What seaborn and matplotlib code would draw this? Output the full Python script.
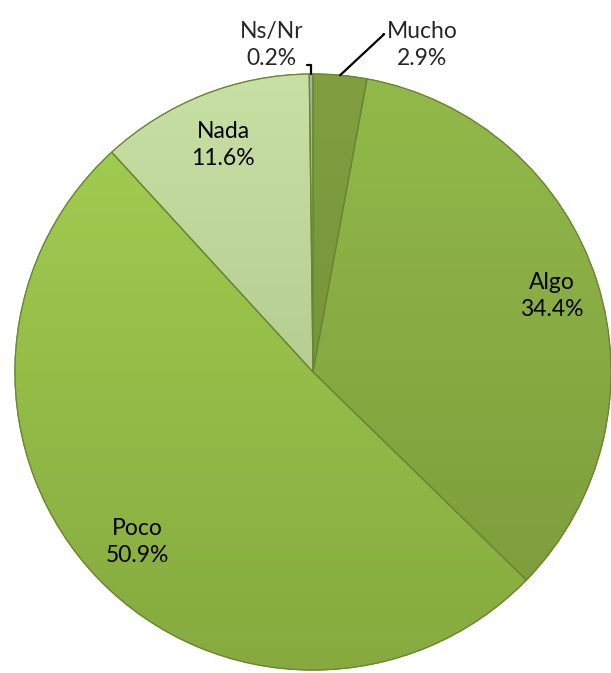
import numpy as np
import matplotlib
matplotlib.use("Agg")
import matplotlib.pyplot as plt
import seaborn as sns
from matplotlib.colors import to_rgb
from matplotlib.patches import Wedge

sns.set_theme(style="white")
plt.rcParams['font.family'] = ['Lato', 'DejaVu Sans']

categories = ["Mucho", "Algo", "Poco", "Nada", "Ns/Nr"]
values = [2.9, 34.4, 50.9, 11.6, 0.2]
tops = ["#7f9f40", "#93b94a", "#a4d052", "#c8e0a4", "#b0b0b0"]
bottoms = ["#6f8c34", "#7a9a3a", "#86aa3e", "#a4bb80", "#909090"]

W, H, DPI = 611, 673, 100
cx, cy, R = 313, 372, 298

fig = plt.figure(figsize=(W / DPI, H / DPI), dpi=DPI)
ax = fig.add_axes([0, 0, 1, 1])

wedges, _ = ax.pie(values, startangle=90, counterclock=False, radius=1,
                   colors=tops,
                   wedgeprops=dict(edgecolor="#6a8632", linewidth=0.9))

# vertical gradient inside each wedge
grad = np.linspace(0, 1, 256)[:, None]
for w, ct, cb in zip(wedges, tops, bottoms):
    c1, c2 = np.array(to_rgb(ct)), np.array(to_rgb(cb))
    img = c1[None, None, :] * (1 - grad[:, :, None]) + c2[None, None, :] * grad[:, :, None]
    img = np.repeat(img, 2, axis=1)
    im = ax.imshow(img, extent=[-1, 1, -1, 1], origin='upper', zorder=w.get_zorder() + 0.1,
                   interpolation='bilinear')
    im.set_clip_path(w)
    edge = Wedge(w.center, w.r, w.theta1, w.theta2, facecolor='none',
                 edgecolor="#6a8632", linewidth=0.9, zorder=w.get_zorder() + 0.2)
    ax.add_patch(edge)

ax.set_xlim(-cx / R, (W - cx) / R)
ax.set_ylim(-(H - cy) / R, cy / R)
ax.set_aspect('equal')
ax.axis('off')

fs = 16.5
ls = 1.32
inside = {"Algo": 0.84, "Poco": 0.82, "Nada": 0.82}
for w, cat, v in zip(wedges, categories, values):
    mid = np.deg2rad((w.theta1 + w.theta2) / 2)
    label = f"{cat}\n{v:.1f}%"
    if cat in inside:
        d = inside[cat]
        ax.text(d * np.cos(mid), d * np.sin(mid), label, ha='center', va='center',
                fontsize=fs, color='black', zorder=10, linespacing=ls)
    elif cat == "Mucho":
        ax.annotate(label, xy=(np.cos(mid), np.sin(mid)), xytext=(0.366, 1.097),
                    ha='center', va='center', fontsize=fs, zorder=10, linespacing=ls,
                    arrowprops=dict(arrowstyle='-', color='black', lw=1.6,
                                    relpos=(-0.05, 0.73), shrinkA=0, shrinkB=0,
                                    connectionstyle='angle,angleA=0,angleB=43,rad=0'))
    else:
        ax.annotate(label, xy=(np.cos(mid), np.sin(mid)), xytext=(-0.138, 1.097),
                    ha='center', va='center', fontsize=fs, zorder=10, linespacing=ls,
                    arrowprops=dict(arrowstyle='-', color='black', lw=1.6,
                                    relpos=(1.05, 0.07), shrinkA=0, shrinkB=0,
                                    connectionstyle='angle,angleA=0,angleB=90,rad=0'))

fig.savefig("out.png", dpi=DPI, facecolor='white')
